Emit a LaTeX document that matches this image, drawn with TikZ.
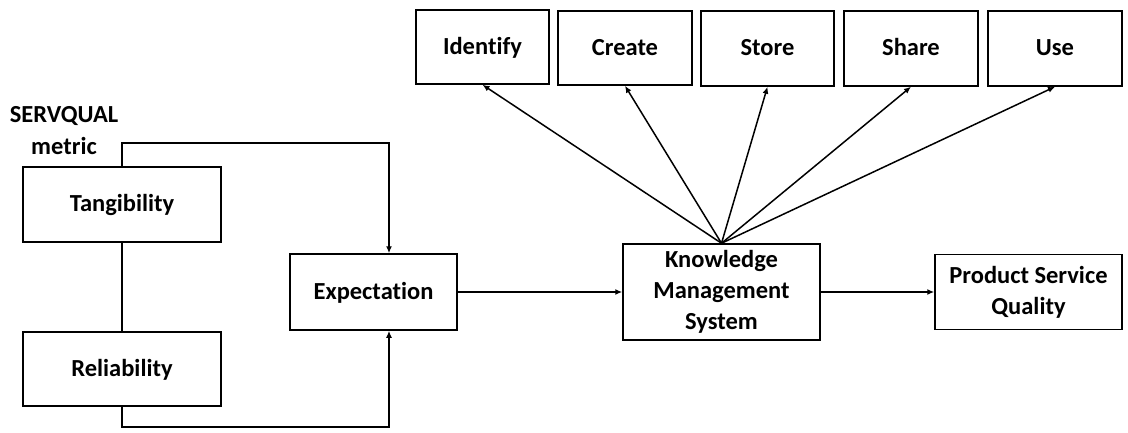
\documentclass[tikz,border=0pt]{standalone}
\usepackage{fontspec}
\setmainfont[Ligatures={NoCommon}]{Carlito}
\usetikzlibrary{arrows.meta}
\begin{document}
\begin{tikzpicture}[x=1pt,y=-1pt,
  box/.style={draw,line width=1.5pt,rectangle,inner sep=0pt,align=center,
    font=\bfseries\fontsize{24.5}{31}\selectfont},
  one/.style={text height=17pt,text depth=3pt},
  conn/.style={line width=1.5pt},
  arr/.style={conn,-{Latex[length=7pt,width=6pt]}}]
\useasboundingbox (0,0) rectangle (1128,432);
\node[box,one,minimum width=133pt,minimum height=74pt] (identify) at (482.5,47) {Identify};
\node[box,one,minimum width=134pt,minimum height=74pt] (create) at (625,48) {Create};
\node[box,one,minimum width=133pt,minimum height=75pt] (store) at (767.5,48.5) {Store};
\node[box,one,minimum width=134pt,minimum height=75pt] (share) at (911,48.5) {Share};
\node[box,one,minimum width=134pt,minimum height=75pt] (use) at (1055,48.5) {Use};
\node[box,one,minimum width=198pt,minimum height=75pt] (tang) at (122,204.5) {Tangibility};
\node[box,one,minimum width=198pt,minimum height=74pt] (rel) at (122,369) {Reliability};
\node[box,one,minimum width=167pt,minimum height=76pt] (exp) at (373.5,292) {Expectation};
\node[box,minimum width=197pt,minimum height=96pt] (kms) at (721.5,292) {Knowledge\\Management\\System};
\node[box,minimum width=187pt,minimum height=75pt] (psq) at (1028.5,292) {Product Service\\Quality};
\node[align=center,inner sep=0pt,font=\bfseries\fontsize{24.5}{32}\selectfont] (sq) at (64,131) {SERVQUAL\\metric};
\coordinate (tl) at (122,143);
\coordinate (tr) at (389,143);
\coordinate (bl) at (122,427);
\coordinate (br) at (389,427);
\draw[conn] (tang.south) -- (rel.north);
\draw[arr] (tang.north) -- (tl) -- (tr) -- (tr |- exp.north);
\draw[arr] (rel.south) -- (bl) -- (br) -- (br |- exp.south);
\draw[arr] (exp.east) -- (kms.west);
\draw[arr] (kms.east) -- (psq.west);
\draw[arr] (kms.north) -- (identify.south);
\draw[arr] (kms.north) -- (create.south);
\draw[arr] (kms.north) -- (store.south);
\draw[arr] (kms.north) -- (share.south);
\draw[arr] (kms.north) -- (use.south);
\end{tikzpicture}
\end{document}
